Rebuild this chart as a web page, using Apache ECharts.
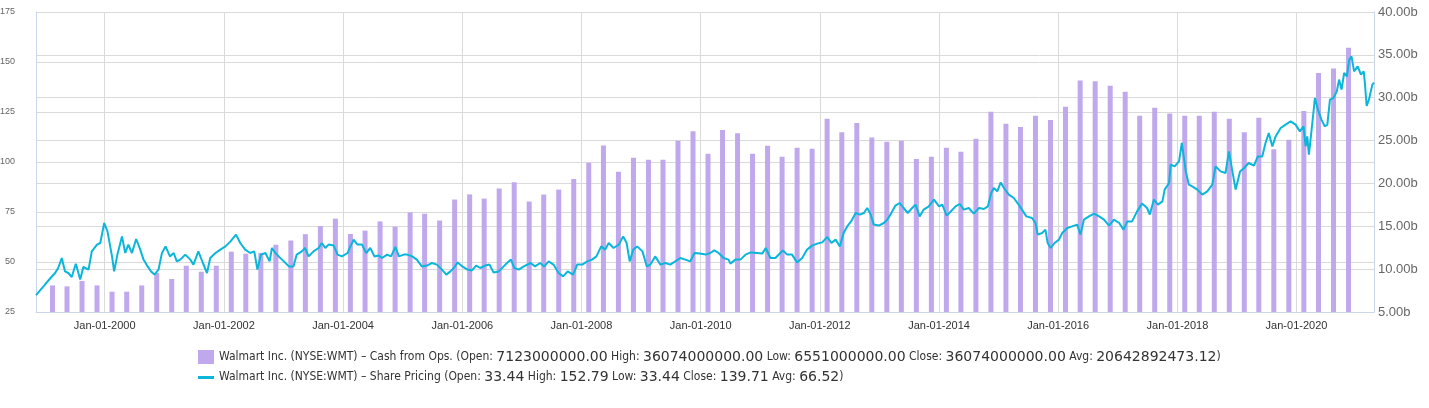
<!DOCTYPE html>
<html>
<head>
<meta charset="utf-8">
<title>Walmart Inc. (NYSE:WMT)</title>
<script src="https://cdn.jsdelivr.net/npm/echarts@6.0.0/dist/echarts.min.js"></script>
<style>
	html, body { margin: 0; padding: 0; background: #fff; }
	#chart { width: 1429px; height: 408px; }
</style>
</head>
<body>
<div id="chart"></div>
<script>
// cash from operations (ttm), one bar per quarter, in billions
var cashDates = [
	'1999-02-15', '1999-05-15', '1999-08-15', '1999-11-15',
	'2000-02-15', '2000-05-15', '2000-08-15', '2000-11-15',
	'2001-02-15', '2001-05-15', '2001-08-15', '2001-11-15',
	'2002-02-15', '2002-05-15', '2002-08-15', '2002-11-15',
	'2003-02-15', '2003-05-15', '2003-08-15', '2003-11-15',
	'2004-02-15', '2004-05-15', '2004-08-15', '2004-11-15',
	'2005-02-15', '2005-05-15', '2005-08-15', '2005-11-15',
	'2006-02-15', '2006-05-15', '2006-08-15', '2006-11-15',
	'2007-02-15', '2007-05-15', '2007-08-15', '2007-11-15',
	'2008-02-15', '2008-05-15', '2008-08-15', '2008-11-15',
	'2009-02-15', '2009-05-15', '2009-08-15', '2009-11-15',
	'2010-02-15', '2010-05-15', '2010-08-15', '2010-11-15',
	'2011-02-15', '2011-05-15', '2011-08-15', '2011-11-15',
	'2012-02-15', '2012-05-15', '2012-08-15', '2012-11-15',
	'2013-02-15', '2013-05-15', '2013-08-15', '2013-11-15',
	'2014-02-15', '2014-05-15', '2014-08-15', '2014-11-15',
	'2015-02-15', '2015-05-15', '2015-08-15', '2015-11-15',
	'2016-02-15', '2016-05-15', '2016-08-15', '2016-11-15',
	'2017-02-15', '2017-05-15', '2017-08-15', '2017-11-15',
	'2018-02-15', '2018-05-15', '2018-08-15', '2018-11-15',
	'2019-02-15', '2019-05-15', '2019-08-15', '2019-11-15',
	'2020-02-15', '2020-05-15', '2020-08-15', '2020-11-15'
];
var cashValues = [
	8.10, 7.99, 8.62, 8.10,
	7.37, 7.37, 8.10, 9.55,
	8.85, 10.40, 9.70, 10.40,
	12.04, 11.80, 11.90, 12.85,
	13.34, 14.08, 15.03, 15.89,
	14.10, 14.49, 15.57, 14.95,
	16.62, 16.47, 15.67, 18.12,
	18.72, 18.23, 19.41, 20.14,
	17.89, 18.70, 19.28, 20.52,
	22.42, 24.42, 21.37, 23.00,
	22.77, 22.77, 24.99, 26.10,
	23.47, 26.23, 25.86, 23.47,
	24.40, 23.12, 24.17, 24.05,
	27.55, 25.96, 27.05, 25.37,
	24.87, 24.99, 22.85, 23.12,
	24.17, 23.70, 25.22, 28.37,
	26.95, 26.58, 27.90, 27.40,
	28.95, 32.02, 31.91, 31.40,
	30.70, 27.90, 28.84, 28.17,
	27.90, 27.90, 28.37, 27.55,
	25.96, 27.67, 24.00, 25.10,
	28.45, 32.88, 33.40, 35.84
];

// share price
var priceDates = [
	'1998-11-06', '1998-12-22', '1999-02-03', '1999-03-03', '1999-03-22', '1999-04-13', '1999-05-03', '1999-05-23',
	'1999-06-13', '1999-07-08', '1999-08-04', '1999-08-23', '1999-09-24', '1999-10-14', '1999-11-15', '1999-12-05',
	'1999-12-29', '2000-01-18', '2000-02-15', '2000-02-28', '2000-03-19', '2000-04-16', '2000-05-06', '2000-05-25',
	'2000-06-16', '2000-07-12', '2000-08-06', '2000-08-26', '2000-09-20', '2000-10-11', '2000-11-01', '2000-11-26',
	'2000-12-17', '2001-01-08', '2001-02-04', '2001-02-27', '2001-03-18', '2001-04-08', '2001-05-09', '2001-06-09',
	'2001-06-28', '2001-07-28', '2001-08-25', '2001-09-19', '2001-10-09', '2001-11-10', '2001-12-10', '2002-01-10',
	'2002-02-10', '2002-03-16', '2002-04-11', '2002-05-11', '2002-06-11', '2002-07-06', '2002-07-25', '2002-08-16',
	'2002-09-12', '2002-10-08', '2002-10-22', '2002-11-12', '2002-12-02', '2003-01-03', '2003-02-03', '2003-03-03',
	'2003-03-23', '2003-04-23', '2003-05-13', '2003-06-04', '2003-07-04', '2003-08-04', '2003-08-24', '2003-09-14',
	'2003-10-04', '2003-11-05', '2003-11-28', '2003-12-25', '2004-01-29', '2004-02-15', '2004-03-06', '2004-03-29',
	'2004-04-26', '2004-05-22', '2004-06-16', '2004-07-11', '2004-08-07', '2004-08-27', '2004-09-27', '2004-10-21',
	'2004-11-17', '2004-12-08', '2005-01-08', '2005-01-28', '2005-02-28', '2005-03-28', '2005-04-28', '2005-05-29',
	'2005-06-29', '2005-07-29', '2005-08-29', '2005-09-25', '2005-10-20', '2005-11-10', '2005-12-04', '2006-01-01',
	'2006-02-01', '2006-03-01', '2006-03-27', '2006-04-21', '2006-05-21', '2006-06-17', '2006-07-11', '2006-08-12',
	'2006-09-22', '2006-10-26', '2006-11-16', '2006-12-13', '2007-01-13', '2007-02-23', '2007-03-23', '2007-04-23',
	'2007-05-18', '2007-06-14', '2007-07-14', '2007-08-14', '2007-09-11', '2007-10-09', '2007-11-11', '2007-12-06',
	'2008-01-06', '2008-02-06', '2008-03-06', '2008-04-02', '2008-05-01', '2008-05-26', '2008-06-16', '2008-07-16',
	'2008-08-17', '2008-09-13', '2008-10-04', '2008-10-23', '2008-11-14', '2008-12-08', '2009-01-09', '2009-02-05',
	'2009-02-27', '2009-03-28', '2009-04-29', '2009-05-29', '2009-06-29', '2009-07-29', '2009-08-29', '2009-09-29',
	'2009-10-29', '2009-11-24', '2009-12-26', '2010-02-01', '2010-03-01', '2010-03-25', '2010-04-21', '2010-05-21',
	'2010-06-21', '2010-07-02', '2010-08-02', '2010-09-02', '2010-10-03', '2010-11-03', '2010-12-13', '2011-01-13',
	'2011-02-04', '2011-03-04', '2011-04-04', '2011-05-04', '2011-05-20', '2011-06-15', '2011-07-15', '2011-08-15',
	'2011-09-15', '2011-10-15', '2011-11-15', '2011-12-16', '2012-01-16', '2012-02-16', '2012-03-12', '2012-04-07',
	'2012-05-03', '2012-05-26', '2012-06-17', '2012-07-11', '2012-08-08', '2012-09-04', '2012-09-27', '2012-10-18',
	'2012-11-08', '2012-11-27', '2012-12-28', '2013-01-28', '2013-02-18', '2013-03-09', '2013-04-09', '2013-05-05',
	'2013-05-29', '2013-06-23', '2013-07-20', '2013-08-10', '2013-09-04', '2013-09-29', '2013-10-30', '2013-12-01',
	'2014-01-01', '2014-01-21', '2014-02-17', '2014-03-11', '2014-04-12', '2014-05-08', '2014-06-02', '2014-07-02',
	'2014-08-02', '2014-09-03', '2014-10-03', '2014-10-27', '2014-11-17', '2014-12-03', '2014-12-24', '2015-01-14',
	'2015-02-03', '2015-03-04', '2015-04-04', '2015-05-04', '2015-05-24', '2015-06-20', '2015-07-25', '2015-08-15',
	'2015-08-29', '2015-09-25', '2015-10-15', '2015-10-29', '2015-11-16', '2015-12-10', '2016-01-06', '2016-01-26',
	'2016-02-26', '2016-03-26', '2016-04-27', '2016-05-17', '2016-06-07', '2016-07-08', '2016-08-08', '2016-09-08',
	'2016-10-08', '2016-11-08', '2016-12-08', '2017-01-09', '2017-02-05', '2017-02-28', '2017-03-29', '2017-04-29',
	'2017-05-29', '2017-06-29', '2017-07-16', '2017-08-10', '2017-09-04', '2017-10-01', '2017-10-15', '2017-11-11',
	'2017-11-21', '2017-12-15', '2018-01-11', '2018-01-28', '2018-02-22', '2018-03-12', '2018-04-02', '2018-05-03',
	'2018-06-03', '2018-07-03', '2018-08-03', '2018-08-23', '2018-09-23', '2018-10-23', '2018-11-13', '2018-12-04',
	'2018-12-24', '2019-01-20', '2019-02-14', '2019-03-14', '2019-04-15', '2019-05-09', '2019-06-05', '2019-06-25',
	'2019-07-15', '2019-08-06', '2019-08-26', '2019-09-26', '2019-10-26', '2019-11-26', '2019-12-26', '2020-01-22',
	'2020-02-13', '2020-02-26', '2020-03-07', '2020-03-17', '2020-04-07', '2020-04-23', '2020-05-11', '2020-06-02',
	'2020-06-22', '2020-07-08', '2020-07-24', '2020-08-14', '2020-09-04', '2020-09-18', '2020-10-03', '2020-10-19',
	'2020-11-05', '2020-11-19', '2020-12-03', '2020-12-19', '2021-01-10', '2021-01-30', '2021-02-16', '2021-02-23',
	'2021-03-06', '2021-03-20', '2021-04-10', '2021-04-20'
];
var priceValues = [
	33.44, 37.8, 42.0, 44.5, 47.0, 52.0, 45.3, 44.5,
	42.5, 49.1, 41.2, 47.5, 46.2, 55.3, 58.7, 59.5,
	69.5, 65.3, 52.8, 45.3, 53.7, 62.8, 54.5, 58.7,
	54.5, 61.5, 56.2, 51.2, 47.8, 45.3, 43.7, 46.2,
	54.5, 57.8, 52.8, 54.5, 50.3, 51.2, 53.7, 51.2,
	48.7, 55.3, 49.5, 44.5, 52.0, 54.5, 56.2, 57.8,
	60.3, 63.7, 59.5, 56.2, 54.5, 55.3, 46.2, 53.7,
	54.5, 50.3, 57.0, 54.5, 52.8, 50.3, 47.8, 47.8,
	53.7, 55.3, 57.0, 52.8, 55.3, 57.0, 59.5, 57.0,
	58.7, 58.2, 53.7, 52.8, 54.5, 57.8, 61.2, 58.7,
	58.7, 54.5, 57.0, 52.8, 53.2, 52.0, 53.7, 52.8,
	57.5, 52.8, 53.7, 53.7, 52.8, 51.2, 47.8, 48.2,
	49.5, 48.7, 46.2, 43.7, 45.3, 47.0, 49.8, 47.8,
	46.2, 45.8, 48.2, 47.0, 48.2, 48.7, 44.8, 45.3,
	48.7, 51.2, 47.0, 46.2, 47.8, 49.5, 47.8, 49.5,
	47.8, 50.3, 48.7, 44.5, 42.8, 45.3, 43.7, 48.7,
	48.7, 50.3, 51.2, 52.8, 57.8, 56.2, 59.5, 57.0,
	58.7, 62.8, 59.5, 50.3, 56.2, 57.8, 55.3, 47.8,
	48.7, 52.8, 48.7, 49.5, 48.7, 50.3, 52.0, 51.2,
	50.3, 54.5, 54.2, 53.7, 54.5, 55.8, 54.5, 52.0,
	51.2, 49.2, 51.2, 51.2, 53.7, 54.8, 54.5, 54.2,
	57.0, 52.0, 52.0, 54.5, 55.8, 53.7, 53.7, 49.8,
	52.0, 56.2, 58.2, 59.2, 59.8, 62.5, 59.5, 61.2,
	57.8, 64.5, 67.8, 70.3, 74.5, 73.7, 74.5, 77.0,
	73.7, 68.7, 68.2, 69.5, 71.2, 73.7, 78.2, 79.5,
	77.0, 74.5, 77.0, 78.7, 72.8, 76.2, 77.8, 81.2,
	77.8, 78.7, 73.2, 75.0, 77.8, 79.0, 76.2, 77.0,
	74.2, 77.0, 76.5, 77.8, 84.5, 87.0, 85.3, 89.8,
	87.0, 83.7, 82.0, 78.7, 76.2, 72.8, 72.0, 69.5,
	63.7, 64.5, 66.2, 59.5, 57.0, 59.5, 61.2, 64.5,
	67.0, 67.8, 68.7, 63.7, 71.2, 72.8, 74.2, 72.8,
	71.2, 68.2, 71.2, 69.5, 66.2, 70.3, 70.3, 75.3,
	79.2, 77.0, 73.7, 81.2, 78.7, 80.3, 86.2, 89.5,
	98.7, 97.8, 100.3, 109.5, 95.0, 88.7, 87.8, 86.2,
	83.7, 85.3, 88.7, 97.8, 95.3, 94.5, 105.3, 95.3,
	86.2, 95.3, 97.0, 99.5, 98.2, 102.8, 102.8, 109.5,
	114.5, 107.8, 112.8, 117.0, 118.7, 120.3, 118.7, 115.3,
	117.8, 107.8, 112.8, 103.7, 119.5, 132.0, 126.2, 121.2,
	117.8, 118.7, 131.2, 132.0, 135.3, 141.2, 136.2, 144.5,
	142.8, 151.2, 152.8, 145.3, 147.8, 143.7, 145.3, 139.5,
	128.0, 131.2, 138.7, 139.71
];

// axis ticks
var tickYears = [2000, 2002, 2004, 2006, 2008, 2010, 2012, 2014, 2016, 2018, 2020];
var priceTicks = [25, 50, 75, 100, 125, 150, 175];
var cashTicks = [5, 10, 15, 20, 25, 30, 35, 40];
var dateRange = ['1998-11-06', '2021-04-20'];

var legendNames = [
	'Walmart Inc. (NYSE:WMT) – Cash from Ops. (Open: 7123000000.00 High: 36074000000.00 Low: 6551000000.00 Close: 36074000000.00 Avg: 20642892473.12)',
	'Walmart Inc. (NYSE:WMT) – Share Pricing (Open: 33.44 High: 152.79 Low: 33.44 Close: 139.71 Avg: 66.52)'
];

var monthNames = ['Jan', 'Feb', 'Mar', 'Apr', 'May', 'Jun', 'Jul', 'Aug', 'Sep', 'Oct', 'Nov', 'Dec'];
// 'YYYY-MM-DD' -> local timestamp
function toTime(s) {
	var p = s.split('-');
	return new Date(+p[0], +p[1] - 1, +p[2]).getTime();
}
function fmtDate(v) {
	var d = new Date(v);
	var day = d.getDate() < 10 ? '0' + d.getDate() : '' + d.getDate();
	return monthNames[d.getMonth()] + '-' + day + '-' + d.getFullYear();
}
// legend: condensed letters, wide figures
function legendText(name) {
	return name.split(/(\d[\d.]*\d|\d)/).map(function(s, i) {
		if (!s) return '';
		return (i % 2 ? '{n|' : '{t|') + s + '}';
	}).join('');
}

var tickTimes = tickYears.map(function(y) { return new Date(y, 0, 1).getTime(); });
var barData = cashDates.map(function(d, i) { return [toTime(d), cashValues[i]]; });
var lineData = priceDates.map(function(d, i) { return [toTime(d), priceValues[i]]; });

var gridColor = '#dadada';
var axisColor = '#ccd6eb';
var font = '"Liberation Sans", Arial, sans-serif';

var myChart = echarts.init(document.getElementById('chart'));
var option = {
	animation: false,
	textStyle: { fontFamily: font },
	grid: {
		left: 36,
		right: 55,
		top: 12,
		bottom: 96,
		containLabel: false,
		outerBoundsMode: 'none'
	},
	legend: {
		orient: 'vertical',
		left: 198,
		top: 350,
		padding: 0,
		itemWidth: 16,
		itemHeight: 14,
		itemGap: 6,
		formatter: legendText,
		textStyle: {
			color: '#333',
			fontSize: 13,
			fontFamily: font,
			rich: {
				t: { color: '#333', fontSize: 12, fontFamily: '"DejaVu Sans Condensed", "Liberation Sans", sans-serif' },
				n: { color: '#333', fontSize: 14, fontFamily: '"DejaVu Sans", sans-serif' }
			}
		},
		data: [
			{ name: legendNames[0], icon: 'rect' },
			{ name: legendNames[1], icon: 'path://M0,0L0,0ZM0,6H16V9H0ZM16,14L16,14Z' }
		]
	},
	xAxis: {
		// timestamps on a value axis so the ticks can sit on Jan 1 of even years
		type: 'value',
		min: toTime(dateRange[0]),
		max: toTime(dateRange[1]),
		axisLine: { onZero: false, lineStyle: { color: axisColor } },
		axisTick: { show: false, customValues: tickTimes },
		axisLabel: {
			customValues: tickTimes,
			formatter: function(v) { return fmtDate(v); },
			color: '#333',
			fontSize: 11,
			margin: 8
		},
		splitLine: { show: true, lineStyle: { color: gridColor } }
	},
	yAxis: [{
		type: 'value',
		min: priceTicks[0],
		max: priceTicks[priceTicks.length - 1],
		interval: 25,
		axisLine: { show: true, lineStyle: { color: axisColor } },
		axisTick: { show: false },
		axisLabel: { color: '#666', fontSize: 9, margin: 21 },
		splitLine: { lineStyle: { color: gridColor } }
	}, {
		type: 'value',
		position: 'right',
		min: cashTicks[0],
		max: cashTicks[cashTicks.length - 1],
		interval: 5,
		axisLine: { show: true, lineStyle: { color: axisColor } },
		axisTick: { show: false },
		axisLabel: {
			color: '#666',
			fontSize: 13,
			margin: 4,
			formatter: function(v) { return v.toFixed(2) + 'b'; }
		},
		splitLine: { lineStyle: { color: gridColor } }
	}],
	series: [{
		name: legendNames[0],
		type: 'bar',
		yAxisIndex: 1,
		barWidth: 5,
		itemStyle: { color: '#c0a8ec' },
		data: barData,
		z: 2
	}, {
		name: legendNames[1],
		type: 'line',
		yAxisIndex: 0,
		symbol: 'none',
		lineStyle: { color: '#0ab6d9', width: 2 },
		itemStyle: { color: '#0ab6d9' },
		data: lineData,
		z: 3
	}]
};
myChart.setOption(option);
</script>
</body>
</html>
